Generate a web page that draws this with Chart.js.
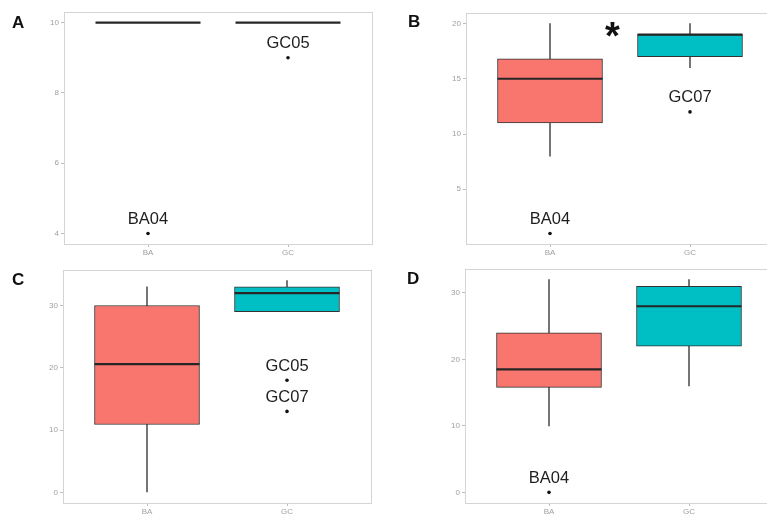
<!DOCTYPE html>
<html>
<head>
<meta charset="utf-8">
<script src="https://cdn.jsdelivr.net/npm/chart.js@4"></script>
<style>
body { margin:0; width:767px; height:520px; overflow:hidden; background:#fff; position:relative; font-family:"Liberation Sans", Arial, sans-serif; }
.panel { position:absolute; }
.tag { position:absolute; font-weight:bold; font-size:17px; color:#111; }
</style>
</head>
<body>
<div class="panel" style="left:0;top:0;width:380px;height:260px"><canvas id="chartA"></canvas></div>
<div class="panel" style="left:380px;top:0;width:402px;height:260px"><canvas id="chartB"></canvas></div>
<div class="panel" style="left:0;top:260px;width:380px;height:260px"><canvas id="chartC"></canvas></div>
<div class="panel" style="left:380px;top:260px;width:401px;height:260px"><canvas id="chartD"></canvas></div>
<div class="tag" style="left:12px;top:13px">A</div>
<div class="tag" style="left:408px;top:12px">B</div>
<div class="tag" style="left:12px;top:270px">C</div>
<div class="tag" style="left:407px;top:269px">D</div>
<div class="tag" style="left:605px;top:17px;font-size:38px;line-height:38px">*</div>
<script>
var groups = ["BA", "GC"];

// panel A
var minA = [10, 10];
var q1A = [10, 10];
var medA = [10, 10];
var q3A = [10, 10];
var maxA = [10, 10];
var outGroupA = [1, 2];
var outValA = [4, 9];
var outLabA = ["BA04", "GC05"];
var ticksA = [4, 6, 8, 10];

// panel B
var minB = [8, 16];
var q1B = [11, 17];
var medB = [15, 19];
var q3B = [16.8, 19];
var maxB = [20, 20];
var outGroupB = [1, 2];
var outValB = [1, 12];
var outLabB = ["BA04", "GC07"];
var ticksB = [5, 10, 15, 20];

// panel C
var minC = [0, 29];
var q1C = [10.9, 29];
var medC = [20.6, 32];
var q3C = [30, 33];
var maxC = [33, 34];
var outGroupC = [2, 2];
var outValC = [18, 13];
var outLabC = ["GC05", "GC07"];
var ticksC = [0, 10, 20, 30];

// panel D
var minD = [10, 16];
var q1D = [15.8, 22];
var medD = [18.5, 28];
var q3D = [24, 31];
var maxD = [32, 32];
var outGroupD = [1];
var outValD = [0];
var outLabD = ["BA04"];
var ticksD = [0, 10, 20, 30];

var boxColors = ["#F8766D", "#00BFC4"];

// frame, medians and outlier labels
var boxPlugin = {
    id: 'boxExtras',
    afterDatasetsDraw: function (chart) {
        var ctx = chart.ctx;
        var a = chart.chartArea;
        var y = chart.scales.y;
        var meds = chart.options.plugins.boxExtras.medians;
        var boxMeta = chart.getDatasetMeta(1);
        ctx.save();
        ctx.strokeStyle = '#262626';
        ctx.lineWidth = 2.2;
        boxMeta.data.forEach(function (bar, i) {
            var py = y.getPixelForValue(meds[i]);
            ctx.beginPath();
            ctx.moveTo(bar.x - bar.width / 2, py);
            ctx.lineTo(bar.x + bar.width / 2, py);
            ctx.stroke();
        });
        var labs = chart.options.plugins.boxExtras.labels;
        var ptMeta = chart.getDatasetMeta(2);
        ctx.fillStyle = '#1e1e1e';
        ctx.font = '16.5px "Liberation Sans", Arial, sans-serif';
        ctx.textAlign = 'center';
        ctx.textBaseline = 'bottom';
        ptMeta.data.forEach(function (pt, i) {
            ctx.fillText(labs[i], pt.x, pt.y - 6);
        });
        ctx.strokeStyle = '#d4d4d4';
        ctx.lineWidth = 1;
        ctx.strokeRect(Math.round(a.left) + 0.5, Math.round(a.top) + 0.5, Math.round(a.right - a.left), Math.round(a.bottom - a.top));
        ctx.restore();
    }
};

function makePanel(id, mins, q1s, meds, q3s, maxs, outGroup, outVal, outLab, yTicks, pad, yWidth, xHeight) {
    var all = mins.concat(maxs, outVal);
    var lo = Math.min.apply(null, all);
    var hi = Math.max.apply(null, all);
    var ex = (hi - lo) * 0.05;
    var whiskers = [], boxes = [], pts = [];
    for (var i = 0; i < groups.length; i++) {
        whiskers.push({x: i + 1, y: [mins[i], maxs[i]]});
        boxes.push({x: i + 1, y: [q1s[i], q3s[i]]});
    }
    for (var j = 0; j < outVal.length; j++) {
        pts.push({x: outGroup[j], y: outVal[j]});
    }
    return new Chart(document.getElementById(id), {
        type: 'bar',
        data: {
            datasets: [{
                data: whiskers,
                backgroundColor: '#5a5a5a',
                barThickness: 1,
                grouped: false,
                order: 2
            }, {
                data: boxes,
                backgroundColor: boxColors,
                borderColor: '#333333',
                borderWidth: 1,
                borderSkipped: false,
                barThickness: 105,
                grouped: false,
                order: 1
            }, {
                type: 'scatter',
                data: pts,
                backgroundColor: '#111',
                borderWidth: 0,
                pointRadius: 1.8,
                order: 0
            }]
        },
        options: {
            responsive: true,
            maintainAspectRatio: false,
            animation: false,
            layout: {padding: pad},
            plugins: {
                legend: {display: false},
                tooltip: {enabled: false},
                boxExtras: {medians: meds, labels: outLab}
            },
            scales: {
                x: {
                    type: 'linear',
                    min: 0.4,
                    max: 2.6,
                    offset: false,
                    afterBuildTicks: function (s) {
                        s.ticks = groups.map(function (g, k) { return {value: k + 1}; });
                    },
                    afterFit: function (s) { s.height = xHeight; },
                    ticks: {
                        callback: function (v) { return groups[v - 1]; },
                        color: '#a0a0a0',
                        font: {size: 8},
                        padding: 1,
                        maxRotation: 0
                    },
                    grid: {drawOnChartArea: false, offset: false, tickLength: 3, color: '#bdbdbd'},
                    border: {display: false}
                },
                y: {
                    min: lo - ex,
                    max: hi + ex,
                    afterBuildTicks: function (s) {
                        s.ticks = yTicks.map(function (v) { return {value: v}; });
                    },
                    afterFit: function (s) { s.width = yWidth; },
                    ticks: {color: '#a0a0a0', font: {size: 8}, padding: 2},
                    grid: {drawOnChartArea: false, tickLength: 3, color: '#bdbdbd'},
                    border: {display: false}
                }
            }
        },
        plugins: [boxPlugin]
    });
}

makePanel('chartA', minA, q1A, medA, q3A, maxA, outGroupA, outValA, outLabA, ticksA,
    {left: 0, top: 12, right: 8, bottom: 0}, 64, 16);
makePanel('chartB', minB, q1B, medB, q3B, maxB, outGroupB, outValB, outLabB, ticksB,
    {left: 0, top: 13, right: 8, bottom: 0}, 86, 16);
makePanel('chartC', minC, q1C, medC, q3C, maxC, outGroupC, outValC, outLabC, ticksC,
    {left: 0, top: 10, right: 9, bottom: 0}, 63, 17);
makePanel('chartD', minD, q1D, medD, q3D, maxD, outGroupD, outValD, outLabD, ticksD,
    {left: 0, top: 9, right: 8, bottom: 0}, 85, 17);
</script>
</body>
</html>
